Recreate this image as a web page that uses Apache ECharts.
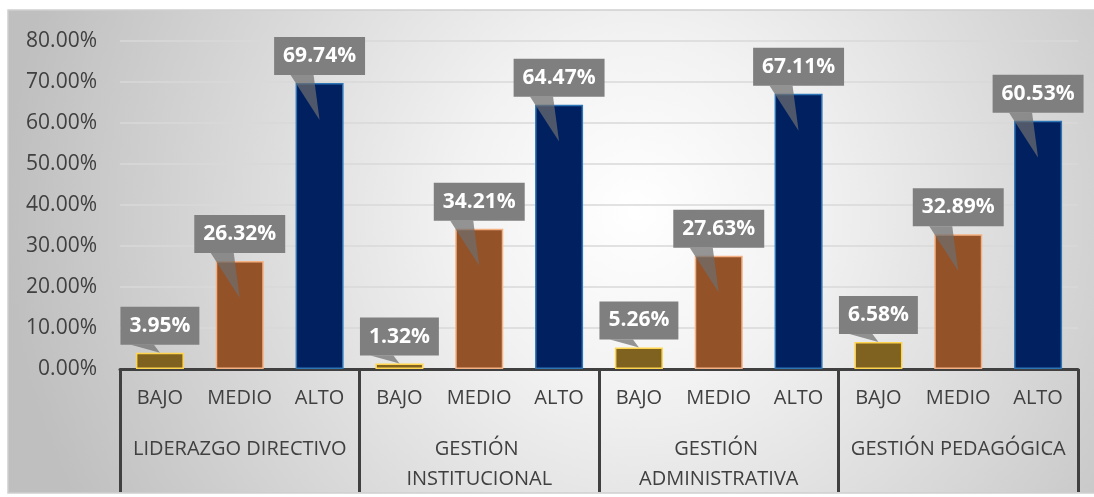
<!DOCTYPE html>
<html>
<head>
<meta charset="utf-8">
<script src="https://cdn.jsdelivr.net/npm/echarts@6/dist/echarts.min.js"></script>
<style>html,body{margin:0;padding:0;background:#fff;}#c{width:1094px;height:497px;}</style>
</head>
<body>
<div id="c"></div>
<script>
const groups = ['LIDERAZGO DIRECTIVO', 'GESTIÓN INSTITUCIONAL', 'GESTIÓN ADMINISTRATIVA', 'GESTIÓN PEDAGÓGICA'];
const levels = ['BAJO', 'MEDIO', 'ALTO'];
const bajo = [3.95, 1.32, 5.26, 6.58];
const medio = [26.32, 34.21, 27.63, 32.89];
const alto = [69.74, 64.47, 67.11, 60.53];
const yTicks = [0, 10, 20, 30, 40, 50, 60, 70, 80];

const levelStyles = [
  { color: '#7F6120', borderColor: '#FFD54F' },
  { color: '#945229', borderColor: '#F4B183' },
  { color: '#012060', borderColor: '#2E75B6' }
];

const cats = [];
const barData = [];
for (let g = 0; g < groups.length; g++) {
  const vals = [bajo[g], medio[g], alto[g]];
  for (let l = 0; l < 3; l++) {
    cats.push(levels[l]);
    barData.push({ value: vals[l], itemStyle: { color: levelStyles[l].color, borderColor: levelStyles[l].borderColor, borderWidth: 1.5 } });
  }
}
const pointerData = barData.map((d, i) => [i, d.value]);

const FONT = 'Open Sans';
const chart = echarts.init(document.getElementById('c'), null, { renderer: 'canvas' });
chart.setOption({
  animation: false,
  backgroundColor: '#ffffff',
  graphic: [{
    type: 'rect', z: -10, silent: true,
    shape: { x: 8, y: 10, width: 1100, height: 483 },
    style: {
      stroke: '#d0d0d0', lineWidth: 1.5,
      fill: {
        type: 'radial', x: 0.57, y: 0.42, r: 1.3,
        colorStops: [
          { offset: 0, color: '#ffffff' },
          { offset: 0.28, color: '#f2f2f2' },
          { offset: 1, color: '#bfbfbf' }
        ]
      }
    }
  }],
  grid: { left: 120, right: 16, top: 41, bottom: 128 },
  xAxis: [{
    type: 'category', data: cats, position: 'bottom',
    axisLine: { lineStyle: { color: '#404040', width: 3 } },
    axisTick: { show: false },
    axisLabel: { interval: 0, fontSize: 20, fontFamily: FONT, color: '#404040', margin: 19 }
  }, {
    type: 'category', data: groups, position: 'bottom',
    axisLine: { show: false },
    axisTick: { show: true, interval: 0, length: 123, lineStyle: { color: '#404040', width: 3 } },
    axisLabel: { interval: 0, fontSize: 20, fontFamily: FONT, color: '#404040', margin: 65, width: 228, overflow: 'break', lineHeight: 30 }
  }],
  yAxis: {
    type: 'value', min: 0, max: 80, interval: 10,
    axisLine: { show: false }, axisTick: { show: false },
    axisLabel: { fontSize: 21, fontFamily: FONT, color: '#404040', margin: 23, formatter: v => v.toFixed(2) + '%' },
    splitLine: { lineStyle: { color: '#d9d9d9', width: 1.5 } }
  },
  series: [{
    type: 'bar', data: barData, barWidth: 48, xAxisIndex: 0, z: 2,
    label: {
      show: true, position: 'top', distance: 8,
      backgroundColor: '#7f7f7f', padding: [4, 9, 4, 9], lineHeight: 30,
      color: '#ffffff', fontWeight: 'bold', fontSize: 21, fontFamily: FONT,
      formatter: p => p.value.toFixed(2) + '%'
    }
  }, {
    type: 'custom', xAxisIndex: 0, z: 5, silent: true,
    data: pointerData,
    renderItem: function (params, api) {
      const idx = api.value(0), v = api.value(1);
      const top = api.coord([idx, v]);
      const tip = v > 15 ? api.coord([idx, v - 9]) : top;
      const cx = top[0];
      const by = top[1] - 8;
      return {
        type: 'polygon',
        shape: { points: [[cx - 29, by], [cx - 6, by], [cx, tip[1]]] },
        style: { fill: 'rgba(110,110,110,0.72)' }
      };
    }
  }]
});
</script>
</body>
</html>
